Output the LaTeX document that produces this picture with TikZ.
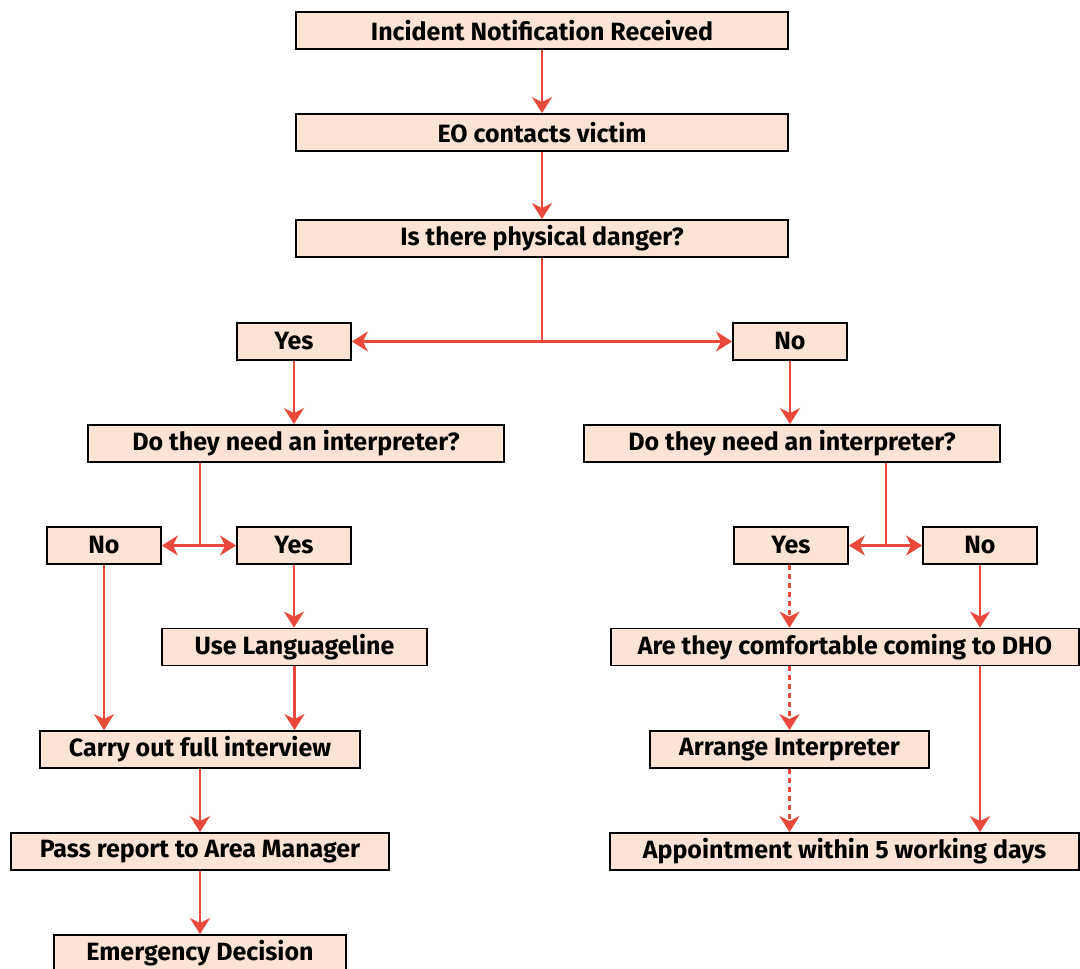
\documentclass[tikz,border=0pt]{standalone}
\usepackage{fontspec}
\setmainfont{Fira Sans}
\usetikzlibrary{arrows.meta}
\definecolor{peach}{HTML}{FCE3D5}
\definecolor{flowred}{HTML}{E8493A}
\begin{document}
\begin{tikzpicture}[x=1pt, y=-1pt, font=\bfseries\fontsize{25}{28}\selectfont,
    box/.style={draw=black, fill=peach, line width=1.8pt, minimum height=37pt, inner sep=0pt},
    link/.style={draw=flowred, line width=2.4pt},
    flow/.style={link, -{Stealth[length=16pt, width=20pt, inset=5pt]}},
    maybe/.style={flow, dash pattern=on 5pt off 4pt}]
    \useasboundingbox (0,0) rectangle (1080,969);
    % main trunk
    \node[box, minimum width=492pt] (notify) at (542,30.5) {Incident Notification Received};
    \node[box, minimum width=492pt] (contact) at (542,132.5) {EO contacts victim};
    \node[box, minimum width=492pt] (danger) at (542,238.5) {Is there physical danger?};
    \node[box, minimum width=114pt] (yesA) at (294,341.5) {Yes};
    \node[box, minimum width=114pt] (noA) at (790,341.5) {No};
    \node[box, minimum width=416pt] (interpL) at (296,443.5) {Do they need an interpreter?};
    \node[box, minimum width=416pt] (interpR) at (792,443.5) {Do they need an interpreter?};
    % left branch
    \node[box, minimum width=114pt] (noL) at (104,545.5) {No};
    \node[box, minimum width=114pt] (yesL) at (294,545.5) {Yes};
    \node[box, minimum width=265pt] (langline) at (294.5,647) {Use Languageline};
    \node[box, minimum width=320pt] (interview) at (200,749.5) {Carry out full interview};
    \node[box, minimum width=378pt] (report) at (200,851.5) {Pass report to Area Manager};
    \node[box, minimum width=292pt] (decision) at (200,953.5) {Emergency Decision};
    % right branch
    \node[box, minimum width=114pt] (yesR) at (791,545.5) {Yes};
    \node[box, minimum width=114pt] (noR) at (980,545.5) {No};
    \node[box, minimum width=468pt] (comfort) at (845,647) {Are they comfortable coming to DHO};
    \node[box, minimum width=279pt] (arrange) at (789.5,749.5) {Arrange Interpreter};
    \node[box, minimum width=469pt] (appoint) at (844.5,851.5) {Appointment within 5 working days};
    % connectors
    \draw[flow] (notify) -- (contact);
    \draw[flow] (contact) -- (danger);
    \coordinate (splitA) at (danger.south |- yesA);
    \draw[link] (danger) -- (splitA);
    \draw[flow] (splitA) -- (yesA);
    \draw[flow] (splitA) -- (noA);
    \draw[flow] (yesA.south) -- (yesA.south |- interpL.north);
    \draw[flow] (noA.south) -- (noA.south |- interpR.north);
    \coordinate (splitL) at (200,545.5);
    \draw[link] (splitL |- interpL.south) -- (splitL);
    \draw[flow] (splitL) -- (noL);
    \draw[flow] (splitL) -- (yesL);
    \coordinate (splitR) at (886,545.5);
    \draw[link] (splitR |- interpR.south) -- (splitR);
    \draw[flow] (splitR) -- (yesR);
    \draw[flow] (splitR) -- (noR);
    \draw[flow] (noL.south) -- (noL.south |- interview.north);
    \draw[flow] (yesL.south) -- (yesL.south |- langline.north);
    \draw[flow] (langline.south) -- (langline.south |- interview.north);
    \draw[flow] (interview) -- (report);
    \draw[flow] (report) -- (decision);
    \draw[maybe] (arrange |- yesR.south) -- (arrange |- comfort.north);
    \draw[flow] (noR.south) -- (noR.south |- comfort.north);
    \draw[maybe] (arrange |- comfort.south) -- (arrange.north);
    \draw[flow] (noR |- comfort.south) -- (noR |- appoint.north);
    \draw[maybe] (arrange.south) -- (arrange.south |- appoint.north);
\end{tikzpicture}
\end{document}
